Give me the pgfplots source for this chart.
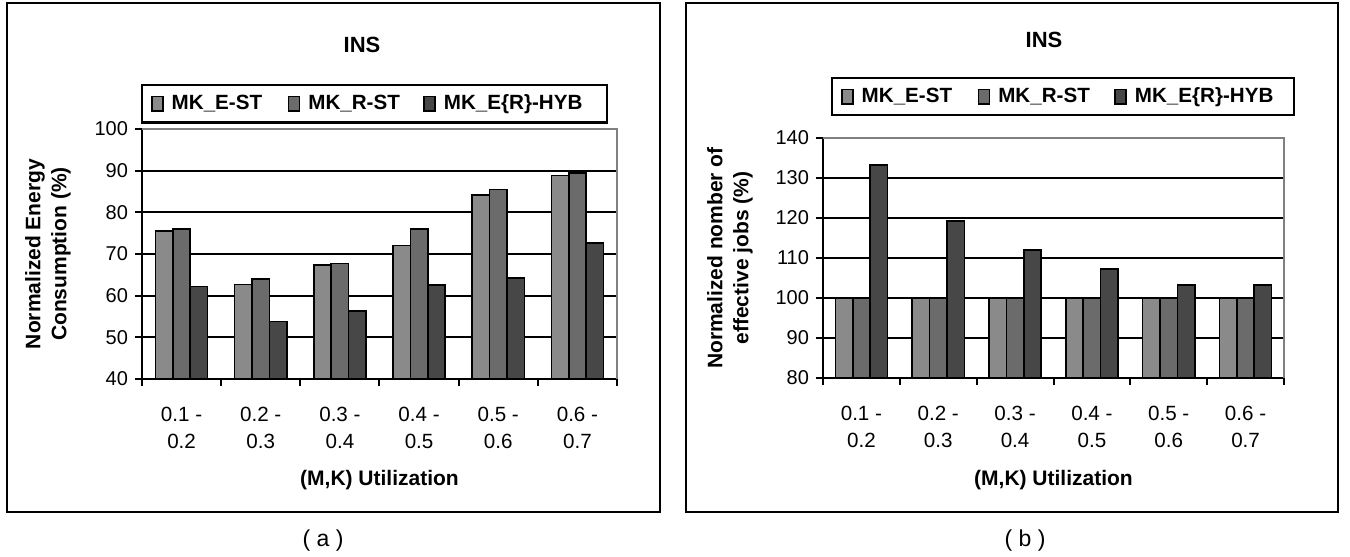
\documentclass[border=0pt]{standalone}
\usepackage{fontspec}
\setmainfont{Liberation Sans}
\usepackage{pgfplots}
\pgfplotsset{compat=1.18}
\definecolor{cA}{HTML}{8A8A8A}
\definecolor{cB}{HTML}{6B6B6B}
\definecolor{cC}{HTML}{474747}
\newcommand{\lf}{\bfseries\fontsize{10.3}{12}\selectfont}
\pgfplotsset{
 mybars/.style={
  scale only axis,
  ybar=0pt, bar width=8.7pt,
  xmin=0,xmax=6,
  xtick={0,1,2,3,4,5,6},
  x tick label as interval,
  xticklabels={{0.1 -\\0.2},{0.2 -\\0.3},{0.3 -\\0.4},{0.4 -\\0.5},{0.5 -\\0.6},{0.6 -\\0.7}},
  xticklabel style={align=center, font=\fontsize{10.3}{13.5}\selectfont, yshift=-7pt},
  yticklabel style={font=\fontsize{10}{11}\selectfont},
  axis x line*=bottom, axis y line*=left,
  axis line style={line width=1.1pt, -},
  tick align=outside,
  major tick length=3.5pt,
  tick style={line width=1pt, black},
  ymajorgrids, grid style={line width=1pt, black},
  /pgf/number format/assume math mode=true,
  legend columns=3,
  legend style={draw=black, line width=1.1pt, font=\lf, anchor=south west,
    inner xsep=4.5pt, inner ysep=3.8pt,
    nodes={inner sep=0pt, text height=8.5pt, text depth=2.5pt},
    /tikz/every even column/.append style={column sep=0pt},
    /tikz/every odd column/.append style={column sep=0pt}},
  legend cell align=left,
  legend image code/.code={\draw[#1,draw=black,line width=0.8pt] (0pt,-3.6pt) rectangle (5.5pt,3.6pt); \path (9.5pt,0pt);},
  every axis plot/.append style={draw=black, line width=0.8pt},
  label style={font=\bfseries\fontsize{10.5}{13}\selectfont, align=center},
  every axis y label/.append style={anchor=center},
  every axis x label/.append style={anchor=center},
  after end axis/.code={\draw[gray, line width=1.2pt] (rel axis cs:0,1) -- (rel axis cs:1,1) -- (rel axis cs:1,0);},
 }
}
\begin{document}
\begin{tikzpicture}
\path[use as bounding box] (0,0) rectangle (675pt,-278.5pt);
\draw[line width=1.3pt] (3.5pt,-1.5pt) rectangle (330pt,-256pt);
\draw[line width=1.3pt] (343pt,-1.5pt) rectangle (669pt,-256pt);
\node[font=\bfseries\fontsize{11}{13}\selectfont] at (181pt,-22.5pt) {INS};
\node[font=\bfseries\fontsize{11}{13}\selectfont] at (522pt,-20pt) {INS};
\node[font=\fontsize{11.5}{13}\selectfont] at (161.5pt,-270.5pt) {( a )};
\node[font=\fontsize{11.5}{13}\selectfont] at (512.5pt,-270.5pt) {( b )};

\begin{axis}[mybars, at={(71pt,-189.5pt)}, anchor=south west,
  width=237.5pt, height=125pt,
  ymin=40, ymax=100, ytick={40,50,...,100},
  ylabel={Normalized Energy\\Consumption (\%)},
  xlabel={(M,K) Utilization},
  ylabel style={at={(axis description cs:-0.198,0.5)}},
  xlabel style={at={(axis description cs:0.5,-0.404)}},
  legend style={at={(axis description cs:-0.002,1.022)}},
]
\addplot[fill=cA] coordinates {(0.5,75.5) (1.5,62.7) (2.5,67.3) (3.5,72.0) (4.5,84.2) (5.5,88.8)};
\addplot[fill=cB] coordinates {(0.5,76.0) (1.5,64.0) (2.5,67.7) (3.5,76.0) (4.5,85.5) (5.5,89.5)};
\addplot[fill=cC] coordinates {(0.5,62.2) (1.5,53.8) (2.5,56.3) (3.5,62.6) (4.5,64.3) (5.5,72.7)};
\legend{\makebox[58pt][l]{MK\_E-ST},\makebox[57.5pt][l]{MK\_R-ST},\makebox[77pt][l]{MK\_E\{R\}-HYB}}
\end{axis}

\begin{axis}[mybars, at={(411.5pt,-189pt)}, anchor=south west,
  width=230.5pt, height=120pt,
  ymin=80, ymax=140, ytick={80,90,...,140},
  ylabel={Normalized nomber of\\effective jobs (\%)},
  xlabel={(M,K) Utilization},
  ylabel style={at={(axis description cs:-0.202,0.5)}},
  xlabel style={at={(axis description cs:0.5,-0.425)}},
  legend style={at={(axis description cs:0.0174,1.09)}},
]
\addplot[fill=cA] coordinates {(0.5,100) (1.5,100) (2.5,100) (3.5,100) (4.5,100) (5.5,100)};
\addplot[fill=cB] coordinates {(0.5,100) (1.5,100) (2.5,100) (3.5,100) (4.5,100) (5.5,100)};
\addplot[fill=cC] coordinates {(0.5,133.3) (1.5,119.3) (2.5,112.0) (3.5,107.3) (4.5,103.3) (5.5,103.3)};
\legend{\makebox[58pt][l]{MK\_E-ST},\makebox[58pt][l]{MK\_R-ST},\makebox[75pt][l]{MK\_E\{R\}-HYB}}
\end{axis}
\end{tikzpicture}
\end{document}
